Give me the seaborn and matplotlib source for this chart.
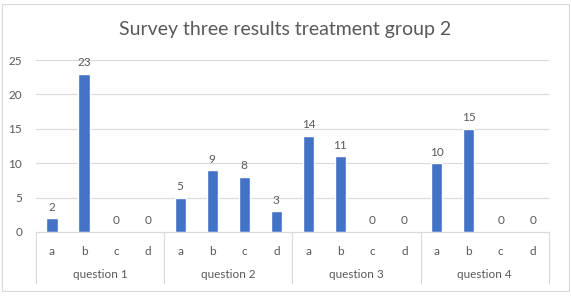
import seaborn as sns
import matplotlib.pyplot as plt
import pandas as pd
from matplotlib.patches import Rectangle
from matplotlib.transforms import blended_transform_factory

# Data: survey three results, treatment group 2
questions = ["question 1", "question 2", "question 3", "question 4"]
options = ["a", "b", "c", "d"]
q1_counts = [2, 23, 0, 0]
q2_counts = [5, 9, 8, 3]
q3_counts = [14, 11, 0, 0]
q4_counts = [10, 15, 0, 0]

all_counts = [q1_counts, q2_counts, q3_counts, q4_counts]
rows = []
for q, counts in zip(questions, all_counts):
    for opt, c in zip(options, counts):
        rows.append({"slot": q + "-" + opt, "question": q, "option": opt, "count": c})
df = pd.DataFrame(rows)

sns.set_style("white")
plt.rcParams['font.family'] = ['Lato', 'DejaVu Sans']
text_color = "#595959"
grid_color = "#D9D9D9"
fs = 8.5

fig = plt.figure(figsize=(5.71, 2.98), dpi=100)
ax = fig.add_axes([0.063, 0.2215, 0.898, 0.577])

sns.barplot(data=df, x="slot", y="count", color="#4472C4", width=0.35,
            saturation=1, ax=ax)

ax.set_ylim(0, 25)
ax.set_yticks([0, 5, 10, 15, 20, 25])
ax.yaxis.grid(True, color=grid_color, linewidth=0.8)
ax.set_axisbelow(True)
ax.set_xlim(-0.5, len(df) - 0.5)
for side in ["top", "right", "left"]:
    ax.spines[side].set_visible(False)
ax.spines["bottom"].set_color(grid_color)
ax.spines["bottom"].set_linewidth(0.8)

ax.set_xticks(range(len(df)))
ax.set_xticklabels(df["option"], color=text_color, fontsize=fs)
ax.tick_params(axis="x", length=0, pad=10)
ax.tick_params(axis="y", length=0, pad=10, labelsize=fs, labelcolor=text_color)
ax.set_xlabel("")
ax.set_ylabel("")

# data labels
for i, c in enumerate(df["count"]):
    ax.text(i, c + 0.8, str(c), ha="center", va="bottom", fontsize=fs, color=text_color)

# grouped category axis: separators and question labels
trans = blended_transform_factory(ax.transData, ax.transAxes)
for k in range(len(questions) + 1):
    ax.plot([k * 4 - 0.5, k * 4 - 0.5], [0, -0.295], transform=trans,
            color=grid_color, linewidth=0.8, clip_on=False)
for k, q in enumerate(questions):
    ax.text(k * 4 + 1.5, -0.245, q, transform=trans, ha="center", va="center",
            fontsize=fs, color=text_color)

fig.suptitle("Survey three results treatment group 2", x=0.5, y=0.93,
             fontsize=14, color=text_color)

fig.patches.append(Rectangle((2 / 571, 7 / 298), 567 / 571, 287 / 298,
                             transform=fig.transFigure, fill=False,
                             edgecolor=grid_color, linewidth=0.8))

fig.savefig("out.png", dpi=100)
